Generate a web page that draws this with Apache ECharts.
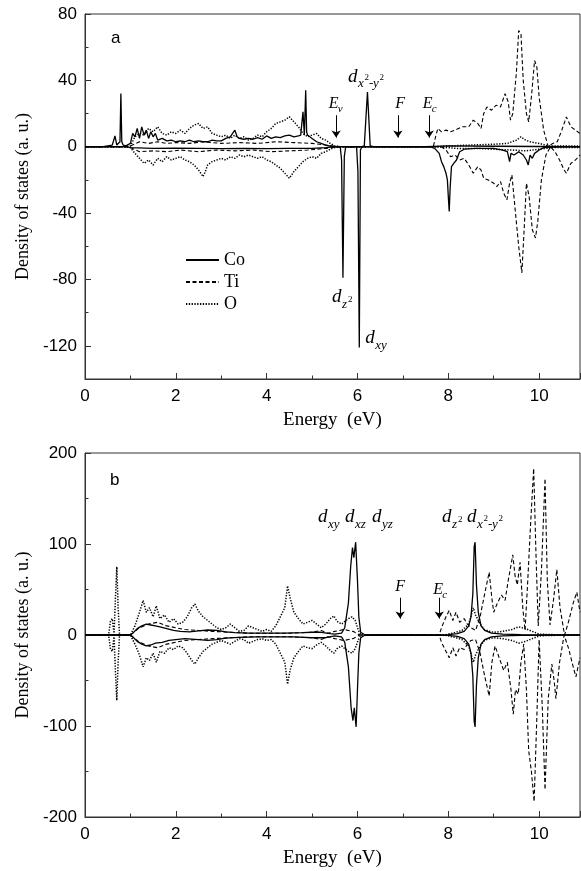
<!DOCTYPE html>
<html><head><meta charset="utf-8">
<script src="https://cdn.jsdelivr.net/npm/echarts@6/dist/echarts.min.js"></script>
<style>html,body{margin:0;padding:0;background:#fff}#c{width:581px;height:871px}</style>
</head><body><div id="c"></div>
<script>
// ---------- Panel (a) data: [energy eV, DOS] ----------
const coUpA = [[0,0],[0.4,0],[0.5,0.5],[0.6,1],[0.66,6.5],[0.7,1],[0.74,0.5],[0.77,3],[0.79,32],[0.81,3],[0.84,1],[0.9,0.5],[1.0,2],[1.05,8],[1.1,6],[1.15,11],[1.2,5],[1.25,12],[1.3,7],[1.35,10],[1.4,5],[1.45,9],[1.5,6],[1.55,8],[1.6,4],[1.7,5],[1.8,3.5],[1.9,4],[2.0,3],[2.1,3.5],[2.2,3],[2.3,4],[2.4,3],[2.5,3.5],[2.6,3],[2.7,3],[2.8,4],[2.9,3.5],[3.0,3.5],[3.1,5],[3.2,6],[3.25,8],[3.3,10],[3.35,6],[3.4,5],[3.5,4.5],[3.6,5],[3.7,4.5],[3.8,5.5],[3.9,4.5],[4.0,6.5],[4.1,5],[4.2,6],[4.3,5.5],[4.4,6.5],[4.5,7],[4.6,6],[4.7,6.5],[4.75,7],[4.8,21],[4.83,7],[4.86,34],[4.88,9],[4.9,7],[4.95,6],[5.0,5],[5.1,3],[5.2,2],[5.3,1],[5.4,0.3],[5.5,0],[6.1,0],[6.15,0.5],[6.22,33],[6.28,0.5],[6.35,0],[7.5,0],[8.0,0.5],[9.0,0.3],[10.9,0]];
const coDnA = [[0,0],[0.9,0],[1.0,-0.5],[1.5,-1],[2.0,-0.8],[2.5,-1],[3.0,-1.2],[3.5,-1],[4.0,-1.2],[4.5,-1],[5.0,-1],[5.3,-0.5],[5.5,0],[5.62,0],[5.65,-8],[5.68,-79],[5.71,-6],[5.74,0],[5.98,0],[6.01,-15],[6.04,-121],[6.065,-2],[6.1,0],[7.6,0],[7.7,-1],[7.8,-4],[7.85,-9],[7.9,-12],[7.95,-16],[7.98,-20],[8.0,-30],[8.02,-39],[8.04,-25],[8.07,-12],[8.12,-10],[8.18,-8],[8.25,-3],[8.35,-1.5],[8.6,-1],[9.0,-1],[9.2,-2],[9.3,-3],[9.35,-9],[9.38,-4],[9.45,-5],[9.55,-3],[9.65,-5],[9.72,-8],[9.76,-11],[9.8,-5],[9.85,-7],[9.9,-4],[10.0,-2],[10.1,-0.5],[10.5,0],[10.9,0]];
const tiUpA = [[0,0],[0.9,0],[1.0,0.5],[1.2,3],[1.4,2],[1.6,3],[1.8,2],[2.0,2.5],[2.3,2],[2.6,3],[3.0,2],[3.4,2.5],[3.8,2],[4.2,3],[4.6,2.5],[5.0,2],[5.3,1],[5.5,0.3],[5.7,0],[7.67,0],[7.72,6],[7.77,11],[7.85,9],[7.95,10],[8.05,9],[8.15,10],[8.3,12],[8.45,12],[8.55,16],[8.65,14],[8.72,11],[8.78,20],[8.85,24],[8.95,22],[9.05,25],[9.15,24],[9.25,32],[9.32,27],[9.37,16],[9.42,20],[9.5,45],[9.55,70],[9.6,68],[9.65,40],[9.72,20],[9.77,15],[9.83,30],[9.9,52],[9.95,48],[10.0,30],[10.1,10],[10.2,0],[10.3,2],[10.4,3],[10.5,10],[10.6,18],[10.7,12],[10.8,10],[10.9,8]];
const tiDnA = [[0,0],[0.9,0],[1.0,-0.5],[1.2,-3],[1.5,-2.5],[1.8,-3],[2.1,-2],[2.5,-3],[2.9,-2],[3.3,-2.5],[3.7,-2],[4.1,-3],[4.5,-2.5],[4.9,-2],[5.3,-1],[5.6,0],[7.85,0],[7.95,-2],[8.05,-6],[8.15,-5],[8.25,-8],[8.35,-7],[8.45,-11],[8.55,-16],[8.65,-12],[8.72,-14],[8.78,-19],[8.88,-20],[9.0,-22],[9.07,-24],[9.15,-21],[9.22,-28],[9.29,-32],[9.35,-22],[9.4,-17],[9.48,-40],[9.55,-60],[9.62,-76],[9.67,-50],[9.72,-22],[9.78,-30],[9.85,-50],[9.92,-55],[9.97,-45],[10.05,-20],[10.15,-5],[10.25,0],[10.35,-3],[10.45,-8],[10.55,-14],[10.6,-16],[10.7,-10],[10.8,-8],[10.9,-5]];
const oUpA = [[0,0],[0.9,0],[1.0,0.5],[1.1,6],[1.2,8],[1.3,7],[1.4,11],[1.5,9],[1.6,12],[1.7,8],[1.8,7],[1.9,9],[2.0,8],[2.1,10],[2.2,8],[2.3,11],[2.4,13],[2.5,14],[2.6,11],[2.7,12],[2.8,8],[2.9,7],[3.0,6],[3.1,7],[3.2,5],[3.3,7],[3.4,5],[3.5,6],[3.6,4],[3.7,5],[3.8,7],[3.9,6],[4.0,9],[4.1,11],[4.2,14],[4.3,15],[4.4,16],[4.5,18],[4.6,15],[4.7,12],[4.8,8],[4.9,6],[5.0,7],[5.1,8],[5.2,5],[5.3,4],[5.4,2],[5.5,0.5],[5.6,0],[7.7,0],[8.0,0.5],[8.5,1],[9.0,1.5],[9.3,2],[9.5,4],[9.6,6],[9.7,4],[9.8,3],[10.0,2],[10.2,0.5],[10.5,0.5],[10.9,0.5]];
const oDnA = [[0,0],[0.9,0],[1.0,-0.5],[1.1,-4],[1.2,-7],[1.3,-10],[1.4,-8],[1.5,-11],[1.6,-7],[1.7,-9],[1.8,-6],[1.9,-8],[2.0,-7],[2.1,-6],[2.2,-8],[2.3,-9],[2.4,-11],[2.5,-14],[2.6,-18],[2.65,-15],[2.7,-11],[2.8,-9],[2.9,-8],[3.0,-7],[3.1,-8],[3.2,-6],[3.3,-7],[3.4,-5],[3.5,-6],[3.6,-5],[3.7,-6],[3.8,-7],[3.9,-6],[4.0,-8],[4.1,-9],[4.2,-11],[4.3,-13],[4.4,-16],[4.5,-19],[4.6,-15],[4.7,-12],[4.8,-9],[4.9,-7],[5.0,-6],[5.1,-7],[5.2,-4],[5.3,-3],[5.4,-1.5],[5.5,-0.5],[5.6,0],[7.7,0],[8.2,-1],[8.6,-1],[9.0,-1.5],[9.4,-2],[9.7,-2.5],[10.0,-1.5],[10.3,-0.5],[10.9,-0.5]];

// ---------- Panel (b) data ----------
const coUpB = [[0,0],[1.0,0],[1.05,2],[1.15,7],[1.25,10],[1.35,12],[1.45,11],[1.55,10],[1.65,9],[1.8,7],[1.95,5],[2.1,4],[2.3,3.5],[2.5,4.5],[2.7,5.5],[2.9,5],[3.1,3.5],[3.3,2.5],[3.6,2],[4.0,2],[4.4,2],[4.8,2.5],[5.0,3],[5.2,3],[5.4,1.5],[5.5,1],[5.65,2],[5.72,8],[5.8,35],[5.85,75],[5.89,96],[5.92,85],[5.96,102],[6.0,60],[6.03,20],[6.07,3],[6.15,0.5],[6.3,0],[8.0,0.5],[8.2,1.5],[8.35,4],[8.45,10],[8.5,20],[8.54,45],[8.57,97],[8.59,102],[8.62,55],[8.66,25],[8.72,10],[8.8,5],[8.95,2],[9.2,1],[9.6,0.5],[10.9,0]];
const coDnB = [[0,0],[1.0,0],[1.05,-2],[1.15,-7],[1.25,-10],[1.35,-12],[1.45,-11],[1.55,-9],[1.7,-8],[1.85,-6],[2.0,-5],[2.2,-4],[2.5,-5],[2.7,-6],[2.9,-5],[3.1,-3.5],[3.4,-2.5],[3.8,-2],[4.2,-2],[4.6,-2],[5.0,-3],[5.3,-3],[5.5,-1],[5.65,-2],[5.72,-8],[5.8,-35],[5.86,-80],[5.9,-94],[5.93,-80],[5.97,-101],[6.0,-60],[6.03,-20],[6.07,-3],[6.15,-0.5],[6.3,0],[8.0,-0.5],[8.2,-1.5],[8.35,-4],[8.45,-10],[8.5,-20],[8.54,-45],[8.57,-95],[8.59,-101],[8.62,-55],[8.66,-25],[8.72,-10],[8.8,-5],[8.95,-2],[9.2,-1],[9.6,-0.5],[10.9,0]];
const tiUpB = [[0,0],[1.0,0],[1.2,8],[1.4,12],[1.6,14],[1.8,10],[2.0,8],[2.2,6],[2.5,5],[2.8,4],[3.2,3],[3.6,2],[4.0,2],[4.5,2],[5.0,3],[5.2,5],[5.35,2],[5.5,4],[5.7,6],[5.9,4],[6.05,0],[7.8,0],[7.85,8],[7.95,20],[8.02,27],[8.1,16],[8.17,25],[8.25,14],[8.35,18],[8.42,12],[8.5,8],[8.6,5],[8.7,20],[8.8,45],[8.9,69],[8.96,40],[9.0,25],[9.08,35],[9.17,44],[9.25,38],[9.32,60],[9.42,88],[9.47,65],[9.52,55],[9.58,80],[9.64,30],[9.69,5],[9.75,60],[9.81,120],[9.88,183],[9.93,90],[9.98,10],[10.05,70],[10.13,172],[10.18,60],[10.24,11],[10.32,40],[10.39,72],[10.46,30],[10.56,0],[10.65,15],[10.75,35],[10.83,47],[10.9,25]];
const tiDnB = [[0,0],[1.0,0],[1.2,-8],[1.4,-12],[1.6,-14],[1.8,-10],[2.0,-8],[2.2,-6],[2.5,-5],[2.8,-4],[3.2,-3],[3.6,-2],[4.0,-2],[4.5,-2],[5.0,-3],[5.2,-5],[5.35,-2],[5.5,-4],[5.7,-6],[5.9,-4],[6.05,0],[7.8,0],[7.85,-8],[7.95,-18],[8.02,-25],[8.1,-14],[8.17,-23],[8.25,-14],[8.35,-16],[8.42,-10],[8.5,-6],[8.6,-5],[8.7,-20],[8.8,-45],[8.9,-67],[8.96,-30],[9.03,-12],[9.12,-25],[9.22,-39],[9.3,-30],[9.38,-60],[9.43,-87],[9.48,-60],[9.54,-65],[9.6,-30],[9.66,-10],[9.72,-60],[9.77,-127],[9.83,-150],[9.89,-183],[9.95,-90],[10.0,-5],[10.07,-80],[10.13,-170],[10.2,-70],[10.28,-32],[10.33,-50],[10.37,-70],[10.45,-30],[10.55,0],[10.65,-15],[10.75,-35],[10.81,-46],[10.9,-25]];
const oUpB = [[0,0],[0.52,0],[0.56,15],[0.6,18],[0.64,2],[0.67,40],[0.7,75],[0.73,30],[0.76,0],[1.0,0],[1.1,10],[1.2,25],[1.28,38],[1.35,25],[1.42,30],[1.5,20],[1.57,32],[1.65,18],[1.75,22],[1.85,14],[1.95,18],[2.05,12],[2.15,14],[2.25,20],[2.35,30],[2.42,34],[2.5,26],[2.6,20],[2.7,16],[2.8,12],[2.9,8],[3.0,6],[3.1,8],[3.2,12],[3.3,8],[3.4,4],[3.5,5],[3.6,10],[3.7,8],[3.8,6],[3.9,4],[4.0,6],[4.1,4],[4.2,10],[4.3,20],[4.4,30],[4.46,54],[4.52,40],[4.6,25],[4.7,18],[4.8,12],[4.9,14],[5.0,16],[5.1,12],[5.2,8],[5.3,12],[5.4,18],[5.48,21],[5.55,15],[5.65,12],[5.72,15],[5.8,18],[5.88,20],[5.95,16],[6.02,5],[6.08,0],[7.9,0],[8.1,2],[8.3,5],[8.45,12],[8.55,30],[8.6,22],[8.7,12],[8.8,6],[8.9,4],[9.0,3],[9.2,4],[9.4,6],[9.55,9],[9.7,7],[9.8,5],[9.9,3],[10.0,1],[10.2,0.5],[10.9,0]];
const oDnB = [[0,0],[0.52,0],[0.56,-15],[0.6,-18],[0.64,-2],[0.67,-40],[0.7,-72],[0.73,-30],[0.76,0],[1.0,0],[1.1,-10],[1.2,-22],[1.28,-35],[1.35,-25],[1.42,-28],[1.5,-20],[1.57,-30],[1.65,-18],[1.75,-20],[1.85,-14],[1.95,-16],[2.05,-12],[2.15,-14],[2.25,-20],[2.35,-28],[2.42,-32],[2.5,-25],[2.6,-18],[2.7,-14],[2.8,-10],[2.9,-8],[3.0,-6],[3.1,-8],[3.2,-10],[3.3,-7],[3.4,-4],[3.5,-5],[3.6,-9],[3.7,-7],[3.8,-5],[3.9,-4],[4.0,-6],[4.1,-5],[4.2,-10],[4.3,-20],[4.4,-30],[4.46,-54],[4.52,-38],[4.6,-25],[4.7,-18],[4.8,-12],[4.9,-14],[5.0,-15],[5.1,-11],[5.2,-8],[5.3,-12],[5.4,-17],[5.48,-20],[5.55,-15],[5.65,-12],[5.72,-15],[5.8,-18],[5.88,-20],[5.95,-15],[6.02,-5],[6.08,0],[7.9,0],[8.1,-2],[8.3,-5],[8.45,-12],[8.55,-30],[8.6,-22],[8.7,-12],[8.8,-6],[8.9,-4],[9.0,-3],[9.2,-4],[9.4,-6],[9.55,-9],[9.7,-7],[9.8,-5],[9.9,-3],[10.0,-1],[10.2,-0.5],[10.9,0]];

// axis tick values
const yMajorA = [-120,-80,-40,0,40,80];
const legendNames = ['Co','Ti','O'];
// arrows: [energy, from, to]
const arrowsA = [[5.53,19,5.5],[6.89,19,5.5],[7.58,19,5.5]];
const arrowsB = [[6.94,41,18],[7.8,41,18]];

const SERIF = 'Liberation Serif', SANS = 'Liberation Sans';
const AX = '#333';
const styles = {
  Co: {color:'#000', width:1.3, type:'solid'},
  Ti: {color:'#000', width:1.1, type:[4,2.5]},
  O:  {color:'#000', width:1.5, type:[1.3,1.5]}
};

function ser(name, data, g, extra){
  return Object.assign({
    type:'line', name, data, xAxisIndex:g, yAxisIndex: g===0?0:2,
    symbol:'none', showSymbol:false, color:'#000', lineStyle:styles[name],
    animation:false, z: name==='Co'?5:(name==='Ti'?4:3)
  }, extra||{});
}
function arrowML(arr){
  return {silent:true, symbol:['none','arrow'], symbolSize:7, animation:false,
    lineStyle:{color:'#000', width:1, type:'solid'}, label:{show:false},
    data: arr.map(a=>[{coord:[a[0],a[1]]},{coord:[a[0],a[2]]}])};
}
function xAx(g){
  return {type:'value', gridIndex:g, min:0, max:10.9, interval:2,
    axisLine:{show:true, onZero:false, lineStyle:{color:AX, width:1}},
    axisTick:{inside:true, length:6, lineStyle:{color:AX}},
    minorTick:{show:true, splitNumber:2, length:3.5, lineStyle:{color:AX}},
    splitLine:{show:false}, minorSplitLine:{show:false},
    axisLabel:{fontFamily:SANS, fontSize:17, color:'#000', margin:9, showMaxLabel:false},
    name:'Energy  (eV)', nameLocation:'middle', nameGap:32,
    nameTextStyle:{fontFamily:SERIF, fontSize:19, color:'#000'}};
}
const yName = {name:'Density of states (a. u.)', nameLocation:'middle', nameGap:51,
  nameTextStyle:{fontFamily:SERIF, fontSize:18, color:'#000'}};

const option = {
  backgroundColor:'#fff', animation:false,
  grid:[
    {left:85, right:1, top:14, bottom:492, show:true, borderColor:AX, borderWidth:1, backgroundColor:'transparent', containLabel:false, outerBoundsMode:'none'},
    {left:85, right:1, top:453, bottom:54, show:true, borderColor:AX, borderWidth:1, backgroundColor:'transparent', containLabel:false, outerBoundsMode:'none'}
  ],
  legend:{left:180, top:246, orient:'vertical', itemWidth:33, itemHeight:14, itemGap:4,
    itemStyle:{opacity:0}, textStyle:{fontFamily:SERIF, fontSize:18, color:'#000'},
    data:legendNames, selectedMode:false},
  xAxis:[xAx(0), xAx(1)],
  yAxis:[
    Object.assign({type:'value', gridIndex:0, position:'left', min:-140, max:80, interval:20,
      axisLine:{show:true, onZero:false, lineStyle:{color:AX}},
      axisTick:{inside:true, length:6, lineStyle:{color:AX}, customValues:yMajorA},
      axisLabel:{fontFamily:SANS, fontSize:17, color:'#000', margin:8, customValues:yMajorA,
        formatter:v=> (v%40===0? String(v):'')},
      splitLine:{show:false}}, yName),
    {type:'value', gridIndex:0, position:'left', min:-140, max:80, interval:40,
      axisLine:{show:false}, axisTick:{inside:true, length:3.5, lineStyle:{color:AX}},
      axisLabel:{show:false}, splitLine:{show:false}},
    Object.assign({type:'value', gridIndex:1, position:'left', min:-200, max:200, interval:100,
      axisLine:{show:true, onZero:false, lineStyle:{color:AX}},
      axisTick:{inside:true, length:6, lineStyle:{color:AX}},
      minorTick:{show:true, splitNumber:2, length:3.5, lineStyle:{color:AX}},
      axisLabel:{fontFamily:SANS, fontSize:17, color:'#000', margin:8},
      splitLine:{show:false}, minorSplitLine:{show:false}}, yName)
  ],
  series:[
    ser('O', oUpA, 0), ser('O', oDnA, 0),
    ser('Ti', tiUpA, 0), ser('Ti', tiDnA, 0),
    ser('Co', coUpA, 0, {markLine: arrowML(arrowsA)}), ser('Co', coDnA, 0),
    ser('O', oUpB, 1), ser('O', oDnB, 1),
    ser('Ti', tiUpB, 1), ser('Ti', tiDnB, 1),
    ser('Co', coUpB, 1, {markLine: arrowML(arrowsB)}), ser('Co', coDnB, 1)
  ]
};

const chart = echarts.init(document.getElementById('c'));
chart.setOption(option);

// annotations: anchor (data coords, left/bottom), pieces [text, size, dx, dy, italic, family]
const notes = [
  {g:0, at:[0.573,60.2], p:[['a',17,0,0,0,SANS]]},
  {g:0, at:[5.37,21], p:[['E',16,0,0,1],['v',11,9,3,1]]},
  {g:0, at:[6.83,21], p:[['F',16,0,0,1]]},
  {g:0, at:[7.44,21], p:[['E',16,0,0,1],['c',11,9,3,1]]},
  {g:0, at:[5.79,36.4], p:[['d',19,0,0,1],['x',13,10,4,1],['2',9,16.5,-4,0],['-',13,21,4,0],['y',13,25,4,1],['2',9,31.5,-4,0]]},
  {g:0, at:[5.44,-96.4], p:[['d',19,0,0,1],['z',13,10,4,1],['2',9,16,-3,0]]},
  {g:0, at:[6.17,-121.1], p:[['d',19,0,0,1],['xy',13,10,4,1]]},
  {g:1, at:[0.55,160.3], p:[['b',17,0,0,0,SANS]]},
  {g:1, at:[5.13,119], p:[['d',19,0,0,1],['xy',13,10,4,1],['d',19,27,0,1],['xz',13,37,4,1],['d',19,54,0,1],['yz',13,64,4,1]]},
  {g:1, at:[7.86,119], p:[['d',19,0,0,1],['z',13,10,4,1],['2',9,16,-3,0],['d',19,25,0,1],['x',13,35,4,1],['2',9,41.5,-4,0],['-',13,46,4,0],['y',13,50,4,1],['2',9,56.5,-4,0]]},
  {g:1, at:[6.83,44.6], p:[['F',16,0,0,1]]},
  {g:1, at:[7.67,41], p:[['E',16,0,0,1],['c',11,9,3,1]]}
];
const graphics = notes.map(n=>{
  const pt = chart.convertToPixel({xAxisIndex:n.g, yAxisIndex:n.g?2:0}, n.at);
  return {type:'group', x:pt[0], y:pt[1], silent:true, z:100,
    children:n.p.map(q=>({type:'text', x:q[2], y:q[3],
      style:{text:q[0], fontSize:q[1], fontFamily:q[5]||SERIF, fontStyle:q[4]?'italic':'normal',
        fill:'#000', align:'left', verticalAlign:'bottom'}}))};
});
chart.setOption({graphic:graphics});
</script></body></html>
